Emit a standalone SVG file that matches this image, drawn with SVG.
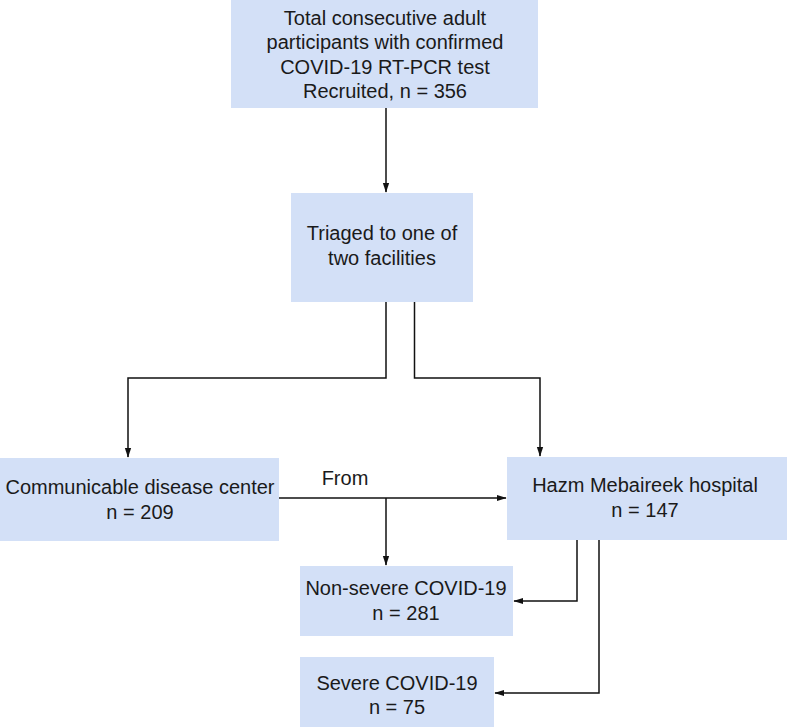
<svg xmlns="http://www.w3.org/2000/svg" width="787" height="728" viewBox="0 0 787 728">
<style>
.box{fill:#d3e0f7;stroke:none}
.t{font-family:"Liberation Sans",Arial,sans-serif;font-size:20px;fill:#1a1a1a;text-anchor:middle}
.c{fill:none;stroke:#111;stroke-width:1.5}
</style>
<defs>
<marker id="ah" markerWidth="10" markerHeight="14" refX="13" refY="5" orient="auto" markerUnits="userSpaceOnUse" viewBox="0 0 14 10">
<path d="M0,0.5 L14,5 L0,9.5 Z" fill="#111"/>
</marker>
</defs>
<rect width="787" height="728" fill="#fff"/>
<g id="n1"><rect class="box" x="231" y="0" width="307" height="108"/>
<text class="t" x="385" y="25">Total consecutive adult</text>
<text class="t" x="385" y="49">participants with confirmed</text>
<text class="t" x="385" y="74">COVID-19 RT-PCR test</text>
<text class="t" x="385" y="98">Recruited, n = 356</text></g>
<g id="n2"><rect class="box" x="291" y="193" width="182" height="109"/>
<text class="t" x="382" y="240">Triaged to one of</text>
<text class="t" x="382" y="265">two facilities</text></g>
<g id="n3"><rect class="box" x="0" y="458" width="279" height="83"/>
<text class="t" x="140" y="494">Communicable disease center</text>
<text class="t" x="140" y="519">n = 209</text></g>
<g id="n4"><rect class="box" x="507" y="457" width="280" height="83"/>
<text class="t" x="645" y="492">Hazm Mebaireek hospital</text>
<text class="t" x="645" y="517">n = 147</text></g>
<g id="n5"><rect class="box" x="300" y="566" width="213" height="70"/>
<text class="t" x="406" y="595">Non-severe COVID-19</text>
<text class="t" x="406" y="620">n = 281</text></g>
<g id="n6"><rect class="box" x="300" y="657" width="194" height="70"/>
<text class="t" x="397" y="690">Severe COVID-19</text>
<text class="t" x="397" y="714">n = 75</text></g>
<g id="connectors">
<path class="c" d="M386,108 V192" marker-end="url(#ah)"/>
<path class="c" d="M386,302 V378 H128 V457" marker-end="url(#ah)"/>
<path class="c" d="M414.5,302 V378 H540 V456" marker-end="url(#ah)"/>
<path class="c" d="M279,498 H506" marker-end="url(#ah)"/>
<path class="c" d="M386,498 V565" marker-end="url(#ah)"/>
<path class="c" d="M577,540 V601 H514" marker-end="url(#ah)"/>
<path class="c" d="M599,540 V693 H495" marker-end="url(#ah)"/>
<text class="t" x="345" y="485">From</text>
</g>
</svg>
